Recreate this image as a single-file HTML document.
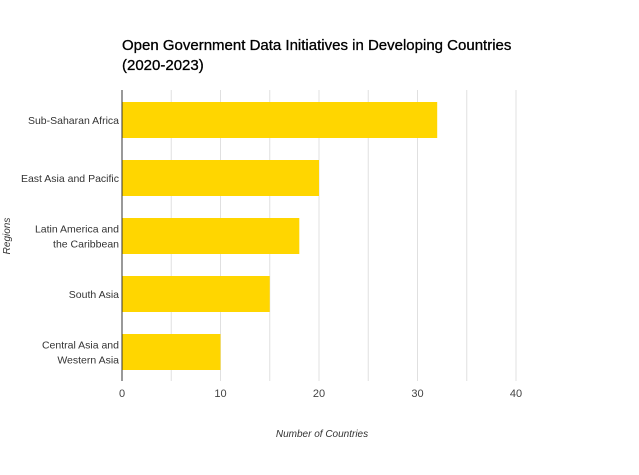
<!DOCTYPE html>
<html><head><meta charset="utf-8"><style>
body{margin:0;background:#fff;font-family:"Liberation Sans",sans-serif}
</style></head><body>
<svg width="639" height="470" xmlns="http://www.w3.org/2000/svg">
<rect width="639" height="470" fill="#fff"/>
<text x="122" y="50" font-size="15" fill="#000" stroke="#000" stroke-width="0.3">Open Government Data Initiatives in Developing Countries</text>
<text x="122" y="70" font-size="15" fill="#000" stroke="#000" stroke-width="0.3">(2020-2023)</text>
<g id="grid"></g><g id="bars"></g><g id="labels"></g>
<text x="322" y="437" font-size="10" font-style="italic" fill="#333" text-anchor="middle">Number of Countries</text>
<text transform="translate(10,236) rotate(-90)" font-size="10" font-style="italic" fill="#333" text-anchor="middle">Regions</text>
</svg>
<script>
const categories=[["Sub-Saharan Africa"],["East Asia and Pacific"],["Latin America and","the Caribbean"],["South Asia"],["Central Asia and","Western Asia"]];
const values=[32,20,18,15,10];
const ticks=[0,10,20,30,40];
const ns="http://www.w3.org/2000/svg";
const x0=122,pxPer=9.85,plotTop=90,band=58,barH=36,plotBottom=381;
const X=v=>x0+v*pxPer;
function mk(t,a,p){const e=document.createElementNS(ns,t);for(const k in a)e.setAttribute(k,a[k]);document.getElementById(p).appendChild(e);return e;}
for(let v=5;v<=40;v+=5){
const l=mk('line',{x1:X(v),x2:X(v),y1:plotTop,y2:plotBottom,stroke:'#e0e0e0','stroke-width':1},'grid');

}
ticks.forEach(t=>{const e=mk('text',{x:X(t),y:397,'font-size':11,fill:'#444','text-anchor':'middle'},'labels');e.textContent=t;

});
values.forEach((v,i)=>{const y=plotTop+band*i+(band-barH)/2+1;
const r=mk('rect',{x:x0,y:y,width:X(v)-x0,height:barH,fill:'#ffd600'},'bars');


const cy=y+barH/2,lines=categories[i];
lines.forEach((s,j)=>{const t=mk('text',{x:x0-3,y:cy+4+(j-(lines.length-1)/2)*15,'font-size':10.5,fill:'#333','text-anchor':'end'},'labels');t.textContent=s;

});});
const ax=mk('line',{x1:x0,x2:x0,y1:plotTop,y2:plotBottom,stroke:'#333','stroke-width':1},'labels');


</script>
</body></html>
